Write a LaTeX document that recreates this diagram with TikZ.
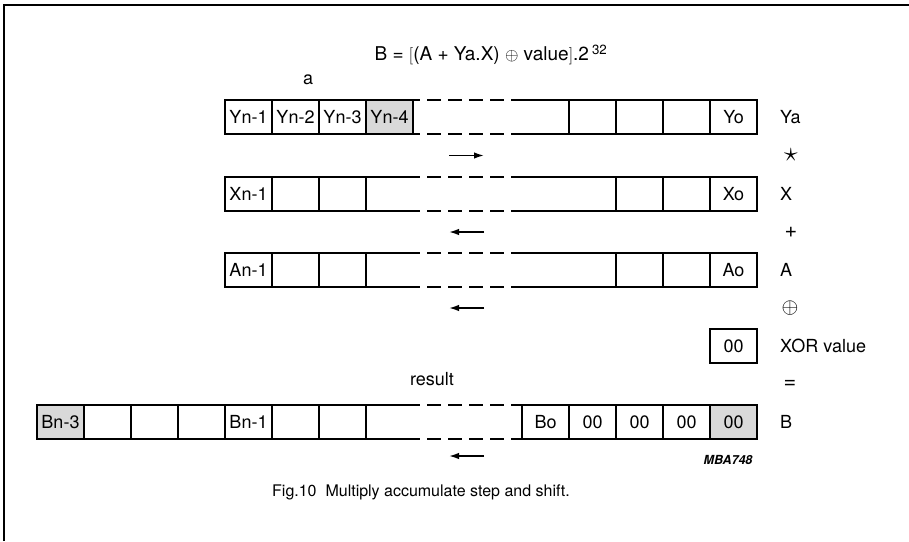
\documentclass[tikz,border=0pt]{standalone}
\usepackage{fontspec}
\setmainfont{TeX Gyre Heros}
\usetikzlibrary{positioning, arrows.meta}
\tikzset{
  cell/.style   = {draw, line width=1.3pt, minimum width=47pt, minimum height=34pt,
                   inner sep=0pt, outer sep=0pt, font=\fontsize{18}{20}\selectfont},
  shaded/.style = {cell, fill=gray!30},
  lbl/.style    = {anchor=west, inner sep=0pt, font=\fontsize{18}{20}\selectfont},
  sym/.style    = {inner sep=0pt, font=\fontsize{18}{20}\selectfont},
  rim/.style    = {line width=1.3pt},
  gap/.style    = {line width=1.3pt, dash pattern=on 14pt off 7pt, dash phase=14pt},
  shiftarr/.style = {-{Latex[length=10pt,width=6.5pt]}, line width=1.6pt}
}
\begin{document}
\begin{tikzpicture}[x=1pt, y=-1pt]
  \useasboundingbox (0,0) rectangle (909,541);
  \draw[line width=1.5pt] (4,541) -- (4,5) -- (909,5);

  % where the rows are broken
  \coordinate (gapL) at (420,0);
  \coordinate (gapR) at (511,0);

  \node[font=\fontsize{19}{21}\selectfont] (formula) at (491,55)
    {B = $\bigl[$(A + Ya.X) $\oplus$ value$\bigr]$.2\,\textsuperscript{32}};
  \node[sym] (a) at (308,80) {a};

  % Ya
  \node[cell, anchor=north west] (y1) at (225,100) {Yn-1};
  \node[cell, right=0pt of y1] (y2) {Yn-2};
  \node[cell, right=0pt of y2] (y3) {Yn-3};
  \node[shaded, right=0pt of y3] (y4) {Yn-4};
  \node[cell, anchor=north west] (y5) at (569,100) {};
  \node[cell, right=0pt of y5] (y6) {};
  \node[cell, right=0pt of y6] (y7) {};
  \node[cell, right=0pt of y7] (y8) {Yo};
  \draw[rim] (y4.north east) -- (gapL |- y4.north) (gapR |- y5.north) -- (y5.north west);
  \draw[rim] (y4.south east) -- (gapL |- y4.south) (gapR |- y5.south) -- (y5.south west);
  \draw[gap] (gapL |- y4.north) -- (gapR |- y5.north);
  \draw[gap] (gapL |- y4.south) -- (gapR |- y5.south);

  % X
  \node[cell, anchor=north west] (x1) at (225,177) {Xn-1};
  \node[cell, right=0pt of x1] (x2) {};
  \node[cell, right=0pt of x2] (x3) {};
  \node[cell, anchor=north west] (x4) at (616,177) {};
  \node[cell, right=0pt of x4] (x5) {};
  \node[cell, right=0pt of x5] (x6) {Xo};
  \draw[rim] (x3.north east) -- (gapL |- x3.north) (gapR |- x4.north) -- (x4.north west);
  \draw[rim] (x3.south east) -- (gapL |- x3.south) (gapR |- x4.south) -- (x4.south west);
  \draw[gap] (gapL |- x3.north) -- (gapR |- x4.north);
  \draw[gap] (gapL |- x3.south) -- (gapR |- x4.south);

  % A
  \node[cell, anchor=north west] (a1) at (225,253) {An-1};
  \node[cell, right=0pt of a1] (a2) {};
  \node[cell, right=0pt of a2] (a3) {};
  \node[cell, anchor=north west] (a4) at (616,253) {};
  \node[cell, right=0pt of a4] (a5) {};
  \node[cell, right=0pt of a5] (a6) {Ao};
  \draw[rim] (a3.north east) -- (gapL |- a3.north) (gapR |- a4.north) -- (a4.north west);
  \draw[rim] (a3.south east) -- (gapL |- a3.south) (gapR |- a4.south) -- (a4.south west);
  \draw[gap] (gapL |- a3.north) -- (gapR |- a4.north);
  \draw[gap] (gapL |- a3.south) -- (gapR |- a4.south);

  % XOR value
  \node[cell, anchor=north west] (xv) at (710,329) {00};

  % B
  \node[shaded, anchor=north west] (b1) at (37,405) {Bn-3};
  \node[cell, right=0pt of b1] (b2) {};
  \node[cell, right=0pt of b2] (b3) {};
  \node[cell, right=0pt of b3] (b4) {};
  \node[cell, right=0pt of b4] (b5) {Bn-1};
  \node[cell, right=0pt of b5] (b6) {};
  \node[cell, right=0pt of b6] (b7) {};
  \node[cell, anchor=north west] (b8) at (522,405) {Bo};
  \node[cell, right=0pt of b8] (b9) {00};
  \node[cell, right=0pt of b9] (b10) {00};
  \node[cell, right=0pt of b10] (b11) {00};
  \node[shaded, right=0pt of b11] (b12) {00};
  \draw[rim] (b7.north east) -- (gapL |- b7.north) (gapR |- b8.north) -- (b8.north west);
  \draw[rim] (b7.south east) -- (gapL |- b7.south) (gapR |- b8.south) -- (b8.south west);
  \draw[gap] (gapL |- b7.north) -- (gapR |- b8.north);
  \draw[gap] (gapL |- b7.south) -- (gapR |- b8.south);

  % shift directions
  \coordinate (s1l) at (449,155.5);  \coordinate (s1r) at (484,155.5);
  \coordinate (s2l) at (449,232);    \coordinate (s2r) at (484,232);
  \coordinate (s3l) at (449,308);    \coordinate (s3r) at (484,308);
  \coordinate (s4l) at (449,456);    \coordinate (s4r) at (484,456);
  \draw[shiftarr] (s1l) -- (s1r);
  \draw[shiftarr] (s2r) -- (s2l);
  \draw[shiftarr] (s3r) -- (s3l);
  \draw[shiftarr] (s4r) -- (s4l);

  % operands on the right
  \node[lbl] (ya)  at (780,117)   {Ya};
  \node[sym, scale=1.6] (mul) at (791,155.5) {$\star$};
  \node[lbl] (xl)  at (780,194)   {X};
  \node[sym, scale=1.2] (add) at (791,232)   {+};
  \node[lbl] (al)  at (780,270)   {A};
  \node[sym, scale=1.25] (xr)  at (790,308)   {$\oplus$};
  \node[lbl] (vl)  at (780,346)   {XOR value};
  \node[sym, scale=1.2] (eq)  at (790,384)   {=};
  \node[lbl] (bl)  at (780,422)   {B};

  \node[sym] (res) at (432,379) {result};
  \node[font=\fontsize{12.5}{14}\selectfont\bfseries\itshape] (code) at (728,460) {MBA748};
  \node[font=\fontsize{16}{18}\selectfont] (cap) at (421,492) {Fig.10\ \ Multiply accumulate step and shift.};
\end{tikzpicture}
\end{document}
